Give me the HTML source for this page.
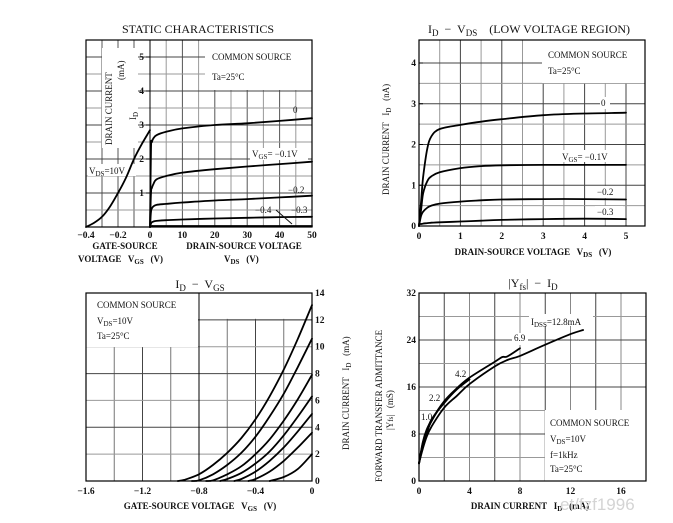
<!DOCTYPE html>
<html><head><meta charset="utf-8">
<style>
html,body{margin:0;padding:0;background:#fff;}
svg{display:block;font-family:"Liberation Serif",serif;}
text{fill:#111;white-space:pre;}
.t{font-size:12px;}
.s{font-size:9px;}
.tk{font-size:9.5px;font-weight:bold;}
</style></head>
<body>
<svg id="fig" width="673" height="523" viewBox="0 0 673 523">
<g id="g1"></g>
<g id="g2"></g>
<g id="g3"></g>
<g id="g4"></g>
<g id="labels">
<!-- chart 1 -->
<text class="t" x="198" y="33" text-anchor="middle">STATIC CHARACTERISTICS</text>
<text class="s" x="212" y="60">COMMON SOURCE</text>
<text class="s" x="212" y="80">Ta=25°C</text>
<g transform="translate(112,145) rotate(-90)">
<text class="s" x="0" y="0">DRAIN CURRENT</text>
<text class="s" x="65" y="12">(mA)</text>
<text class="s" x="25" y="24">I<tspan dy="2" font-size="7">D</tspan></text>
</g>
<text class="s" x="89" y="174">V<tspan dy="2" font-size="7">DS</tspan><tspan dy="-2">=10V</tspan></text>
<text class="s" x="293" y="113">0</text>
<text class="s" x="252" y="157">V<tspan dy="2" font-size="7">GS</tspan><tspan dy="-2">= −0.1V</tspan></text>
<text class="s" x="288" y="193">−0.2</text>
<text class="s" x="291" y="213">−0.3</text>
<text class="s" x="255" y="213">−0.4</text>
<line x1="276" y1="210" x2="292" y2="224" stroke="#111" stroke-width="1"/>
<text class="s" x="125" y="249" text-anchor="middle" font-weight="bold">GATE-SOURCE</text>
<text class="s" x="78" y="262" font-weight="bold">VOLTAGE   V<tspan dy="2" font-size="7">GS</tspan><tspan dy="-2">   (V)</tspan></text>
<text class="s" x="244" y="249" text-anchor="middle" font-weight="bold">DRAIN-SOURCE VOLTAGE</text>
<text class="s" x="224" y="262" font-weight="bold">V<tspan dy="2" font-size="7">DS</tspan><tspan dy="-2">   (V)</tspan></text>
<!-- chart 2 -->
<text class="t" x="428" y="33">I<tspan dy="3" font-size="9">D</tspan><tspan dy="-3">  −  V</tspan><tspan dy="3" font-size="9">DS</tspan><tspan dy="-3">    (LOW VOLTAGE REGION)</tspan></text>
<text class="s" x="548" y="58">COMMON SOURCE</text>
<text class="s" x="548" y="74">Ta=25°C</text>
<text class="s" transform="translate(389,195) rotate(-90)">DRAIN CURRENT   I<tspan dy="2" font-size="7">D</tspan><tspan dy="-2">   (nA)</tspan></text>
<text class="s" x="601" y="106">0</text>
<text class="s" x="562" y="160">V<tspan dy="2" font-size="7">GS</tspan><tspan dy="-2">= −0.1V</tspan></text>
<text class="s" x="597" y="195">−0.2</text>
<text class="s" x="597" y="215">−0.3</text>
<text class="s" x="533" y="255" text-anchor="middle" font-weight="bold">DRAIN-SOURCE VOLTAGE   V<tspan dy="2" font-size="7">DS</tspan><tspan dy="-2">   (V)</tspan></text>
<!-- chart 3 -->
<text class="t" x="200" y="288" text-anchor="middle">I<tspan dy="3" font-size="9">D</tspan><tspan dy="-3">  −  V</tspan><tspan dy="3" font-size="9">GS</tspan></text>
<text class="s" x="97" y="308">COMMON SOURCE</text>
<text class="s" x="97" y="324">V<tspan dy="2" font-size="7">DS</tspan><tspan dy="-2">=10V</tspan></text>
<text class="s" x="97" y="339" font-size="8">Ta=25°C</text>
<text class="s" transform="translate(349,450) rotate(-90)">DRAIN CURRENT   I<tspan dy="2" font-size="7">D</tspan><tspan dy="-2">   (mA)</tspan></text>
<text class="s" x="200" y="509" text-anchor="middle" font-weight="bold">GATE-SOURCE VOLTAGE   V<tspan dy="2" font-size="7">GS</tspan><tspan dy="-2">   (V)</tspan></text>
<!-- chart 4 -->
<text class="t" x="533" y="287" text-anchor="middle">|Y<tspan dy="3" font-size="9">fs</tspan><tspan dy="-3">|  −  I</tspan><tspan dy="3" font-size="9">D</tspan></text>
<text class="s" transform="translate(382,482) rotate(-90)">FORWARD TRANSFER ADMITTANCE</text>
<text class="s" transform="translate(393,430) rotate(-90)">|Y<tspan font-size="7">fs</tspan>|   (mS)</text>
<text class="s" x="550" y="426">COMMON SOURCE</text>
<text class="s" x="550" y="442" font-size="10">V<tspan dy="2" font-size="7">DS</tspan><tspan dy="-2">=10V</tspan></text>
<text class="s" x="550" y="458">f=1kHz</text>
<text class="s" x="550" y="472">Ta=25°C</text>
<text class="s" x="421" y="420">1.0</text>
<text class="s" x="429" y="401">2.2</text>
<text class="s" x="455" y="377">4.2</text>
<text class="s" x="514" y="341">6.9</text>
<text class="s" x="531" y="325">I<tspan dy="2" font-size="7">DSS</tspan><tspan dy="-2">=12.8mA</tspan></text>
<text class="s" x="530" y="509" text-anchor="middle" font-weight="bold">DRAIN CURRENT   I<tspan dy="2" font-size="7">D</tspan><tspan dy="-2">   (mA)</tspan></text>
<text x="560" y="510" font-family="Liberation Sans, sans-serif" font-size="17" style="fill:#d4d4d4">et/fzf1996</text>
</g>
</svg>
<script>
// ---- Chart 1 data ----
const c1Vds = [0,0.3,0.6,1,2,5,10,20,30,40,50];
const c1Vgs0 = [0,2.3,2.5,2.6,2.7,2.8,2.9,3.0,3.05,3.12,3.2];
const c1VgsM1 = [0,1.0,1.15,1.25,1.4,1.5,1.6,1.7,1.78,1.85,1.92];
const c1VgsM2 = [0,0.45,0.55,0.6,0.65,0.68,0.72,0.78,0.82,0.87,0.92];
const c1VgsM3 = [0,0.1,0.14,0.16,0.18,0.2,0.22,0.25,0.27,0.29,0.3];
const c1VgsM4 = [0,0.02,0.03,0.03,0.03,0.03,0.03,0.03,0.03,0.03,0.03];
const c1TransVgs = [-0.4,-0.35,-0.3,-0.25,-0.2,-0.15,-0.1,-0.05,0];
const c1TransId = [0,0.12,0.3,0.6,1.0,1.45,2.0,2.45,2.85];
const c1YTicks = [1,2,3,4,5];
const c1VdsTicks = [0,10,20,30,40,50];
const c1VgsTicks = [-0.4,-0.2];
// ---- Chart 2 data ----
const c2Vds = [0,0.05,0.1,0.2,0.3,0.5,1,1.5,2,3,4,5];
const c2Vgs0 = [0,0.6,1.2,1.9,2.2,2.38,2.48,2.56,2.62,2.72,2.76,2.78];
const c2VgsM1 = [0,0.4,0.8,1.1,1.22,1.32,1.42,1.47,1.49,1.5,1.5,1.5];
const c2VgsM2 = [0,0.25,0.35,0.45,0.5,0.55,0.6,0.63,0.65,0.66,0.66,0.65];
const c2VgsM3 = [0.05,0.05,0.06,0.07,0.08,0.09,0.11,0.13,0.15,0.17,0.18,0.17];
const c2XTicks = [0,1,2,3,4,5];
const c2YTicks = [0,1,2,3,4];
// ---- Chart 3 data ----
const c3VgsA = [-0.95,-0.9,-0.8,-0.7,-0.6,-0.5,-0.4,-0.3,-0.2,-0.1,0];
const c3IdA = [0,0.1,0.5,1.2,2.1,3.2,4.6,6.3,8.3,10.6,13.1];
const c3VgsB = [-0.85,-0.8,-0.7,-0.6,-0.5,-0.4,-0.3,-0.2,-0.1,0];
const c3IdB = [0,0.05,0.5,1.2,2.1,3.3,4.8,6.5,8.5,10.6];
const c3VgsC = [-0.75,-0.7,-0.6,-0.5,-0.4,-0.3,-0.2,-0.1,0];
const c3IdC = [0,0.05,0.5,1.1,2.0,3.1,4.5,6.1,7.9];
const c3VgsD = [-0.65,-0.6,-0.5,-0.4,-0.3,-0.2,-0.1,0];
const c3IdD = [0,0.15,0.6,1.3,2.2,3.4,4.8,6.3];
const c3VgsE = [-0.55,-0.5,-0.4,-0.3,-0.2,-0.1,0];
const c3IdE = [0,0.15,0.7,1.5,2.5,3.7,5.0];
const c3VgsF = [-0.45,-0.4,-0.3,-0.2,-0.1,0];
const c3IdF = [0,0.15,0.7,1.5,2.5,3.6];
const c3VgsG = [-0.3,-0.2,-0.1,0];
const c3IdG = [0,0.3,0.9,2.0];
const c3XTicks = [-1.6,-1.2,-0.8,-0.4,0];
const c3YTicks = [0,2,4,6,8,10,12,14];
// ---- Chart 4 data ----
const c4IdMain = [0,0.3,0.6,1,2,3,4,6,7,8,10,12,13];
const c4YfsMain = [3,5.5,7.5,9.3,12.5,14.5,16.5,19.5,20.6,21.3,23.2,25,25.7];
const c4Id69 = [0,0.3,0.6,1,2,3,4,6,6.6,7,8];
const c4Yfs69 = [3,6,8,10.3,13.6,15.8,17.6,20.3,21.1,21.2,22.6];
const c4Id42 = [0,0.3,0.6,1,2,3,4];
const c4Yfs42 = [3,6.2,8.3,10.5,13.3,15.6,17.3];
const c4Id22 = [0,0.3,0.6,1,1.5,2];
const c4Yfs22 = [3,6.4,8.5,10.2,12,13.4];
const c4Id10 = [0,0.3,0.6,1];
const c4Yfs10 = [3,6.6,8.7,10.4];
const c4XTicks = [0,4,8,12,16];
const c4YTicks = [0,8,16,24,32];

const NS = 'http://www.w3.org/2000/svg';
function mk(parent, tag, attrs){ const e=document.createElementNS(NS,tag); for(const k in attrs) e.setAttribute(k,attrs[k]); parent.appendChild(e); return e; }
function lin(d0,d1,r0,r1){ return v => r0 + (v-d0)*(r1-r0)/(d1-d0); }
function curve(g, xs, ys, fx, fy, name){
  const P = xs.map((x,i)=>[fx(x), fy(ys[i])]);
  let d = 'M'+P[0][0].toFixed(1)+','+P[0][1].toFixed(1);
  for(let i=0;i<P.length-1;i++){
    const p0=P[Math.max(0,i-1)], p1=P[i], p2=P[i+1], p3=P[Math.min(P.length-1,i+2)];
    const c1x=p1[0]+(p2[0]-p0[0])/6, c1y=p1[1]+(p2[1]-p0[1])/6;
    const c2x=p2[0]-(p3[0]-p1[0])/6, c2y=p2[1]-(p3[1]-p1[1])/6;
    d += ' C'+c1x.toFixed(1)+','+c1y.toFixed(1)+' '+c2x.toFixed(1)+','+c2y.toFixed(1)+' '+p2[0].toFixed(1)+','+p2[1].toFixed(1);
  }
  const p = mk(g,'path',{d:d,fill:'none',stroke:'#000','stroke-width':1.8,'stroke-linejoin':'round','stroke-linecap':'round'});
  
  
  return p;
}
function gl(g,x1,y1,x2,y2,c,name){
  const l = mk(g,'line',{x1,y1,x2,y2,stroke:c||'#777','stroke-width':1});
  
  
}
function txt(g,x,y,s,anchor,name){
  const t = mk(g,'text',{x,y,'text-anchor':anchor||'middle','class':'tk'});
  t.textContent = s;
  
  
}
function wbox(g,x,y,w,h,name){
  const r = mk(g,'rect',{x,y,width:w,height:h,fill:'#fff'});
  
  
}

// ===== Chart 1 =====
(function(){
  const g = document.getElementById('g1');
  const L=86,R=312,T=40,B=227,X0=150;
  const xv = lin(0,50,X0,R), xg = lin(-0.4,0,L,X0), y = lin(0,5.5,B,T);
  for(let v=5;v<50;v+=5) gl(g,xv(v),T,xv(v),B,v%10? '#999':'#555','grid-v');
  [-0.3,-0.2,-0.1].forEach(v=>gl(g,xg(v),T,xg(v),B,'#555','grid-v'));
  for(let v=0.5;v<5.5;v+=0.5) gl(g,L,y(v),R,y(v),Number.isInteger(v)?'#444':'#999','grid-h');
  wbox(g,102,48,36,100,'y-title-box');
  wbox(g,205,T,R-205,50,'legend-box');
  wbox(g,88,164,48,12,'vds-label-box');
  wbox(g,250,148,58,12,'vgs-label-box');
  const f = mk(g,'rect',{x:L,y:T,width:R-L,height:B-T,fill:'none',stroke:'#000','stroke-width':1.2});
   
  gl(g,X0,T,X0,B,'#000','y-axis');
  c1YTicks.forEach(v=>{ gl(g,X0-4,y(v),X0,y(v),'#000','y-tick'); txt(g,X0-6,y(v)+3,String(v),'end','y-tick-label'); });
  c1VdsTicks.forEach(v=>txt(g,xv(v),238,String(v),'middle','x-tick-label'));
  c1VgsTicks.forEach(v=>txt(g,xg(v),238,(v<0?'−':'')+Math.abs(v).toFixed(1),'middle','x-tick-label'));
  curve(g,c1Vds,c1Vgs0,xv,y,'curve-vgs-0');
  curve(g,c1Vds,c1VgsM1,xv,y,'curve-vgs-m01');
  curve(g,c1Vds,c1VgsM2,xv,y,'curve-vgs-m02');
  curve(g,c1Vds,c1VgsM3,xv,y,'curve-vgs-m03');
  curve(g,c1Vds,c1VgsM4,xv,y,'curve-vgs-m04');
  curve(g,c1TransVgs,c1TransId,xg,y,'curve-transfer');
})();

// ===== Chart 2 =====
(function(){
  const g = document.getElementById('g2');
  const L=419,R=645,T=40,B=226;
  const x = lin(0,5,L,626), y = lin(0,4,B,63);
  for(let v=0.5;v<5.3;v+=0.5) gl(g,x(v),T,x(v),B,Number.isInteger(v)?'#444':'#999','grid-v');
  for(let v=0.5;v<4.5;v+=0.5) gl(g,L,y(v),R,y(v),Number.isInteger(v)?'#444':'#999','grid-h');
  wbox(g,542,T,R-542,43,'legend-box');
  wbox(g,560,150,58,12,'vgs-label-box');
  [[600,97,10],[595,186,28],[595,206,28]].forEach(b=>wbox(g,b[0],b[1],b[2],12,'curve-label-box'));
  const f = mk(g,'rect',{x:L,y:T,width:R-L,height:B-T,fill:'none',stroke:'#000','stroke-width':1.2});
   
  c2YTicks.forEach(v=>{ gl(g,L,y(v),L+4,y(v),'#000','y-tick'); txt(g,L-3,y(v)+3,String(v),'end','y-tick-label'); });
  c2XTicks.forEach(v=>txt(g,x(v),239,String(v),'middle','x-tick-label'));
  curve(g,c2Vds,c2Vgs0,x,y,'curve-vgs-0');
  curve(g,c2Vds,c2VgsM1,x,y,'curve-vgs-m01');
  curve(g,c2Vds,c2VgsM2,x,y,'curve-vgs-m02');
  curve(g,c2Vds,c2VgsM3,x,y,'curve-vgs-m03');
})();

// ===== Chart 3 =====
(function(){
  const g = document.getElementById('g3');
  const L=86,R=312,T=293,B=481;
  const x = lin(-1.6,0,L,R), y = lin(0,14,B,T);
  for(let i=1;i<8;i++){ const v=-1.6+0.2*i; gl(g,x(v),T,x(v),B,i%2?'#777':'#444','grid-v'); }
  for(let v=2;v<14;v+=2) gl(g,L,y(v),R,y(v),v%4?'#999':'#444','grid-h');
  wbox(g,L,T,112,54,'legend-box');
  wbox(g,198,T,R-198,y(12)-T-1,'top-box');
  gl(g,x(-0.6),y(12),R,y(12),'#444','grid-h');
  const f = mk(g,'rect',{x:L,y:T,width:R-L,height:B-T,fill:'none',stroke:'#000','stroke-width':1.2});
   
  gl(g,x(-0.8),T,x(-0.8),B,'#000','grid-v-dark');
  c3YTicks.forEach(v=>txt(g,R+3,y(v)+3,String(v),'start','y-tick-label'));
  c3XTicks.forEach(v=>txt(g,x(v),494,v===0?'0':'−'+Math.abs(v).toFixed(1),'middle','x-tick-label'));
  curve(g,c3VgsA,c3IdA,x,y,'curve-idss-13');
  curve(g,c3VgsB,c3IdB,x,y,'curve-idss-10');
  curve(g,c3VgsC,c3IdC,x,y,'curve-idss-8');
  curve(g,c3VgsD,c3IdD,x,y,'curve-idss-6');
  curve(g,c3VgsE,c3IdE,x,y,'curve-idss-5');
  curve(g,c3VgsF,c3IdF,x,y,'curve-idss-3');
  curve(g,c3VgsG,c3IdG,x,y,'curve-idss-2');
})();

// ===== Chart 4 =====
(function(){
  const g = document.getElementById('g4');
  const L=419,R=646,T=293,B=481;
  const x = lin(0,16,L,621), y = lin(0,32,B,T);
  for(let v=2;v<18;v+=2) gl(g,x(v),T,x(v),B,v%4?'#444':'#888','grid-v');
  for(let v=4;v<32;v+=4) gl(g,L,y(v),R,y(v),v%8?'#999':'#444','grid-h');
  wbox(g,545,410,R-545,B-410,'legend-box');
  [[420,411,14],[428,392,14],[454,368,14],[512,333,16],[529,314,64]].forEach(b=>wbox(g,b[0],b[1],b[2],12,'curve-label-box'));
  const f = mk(g,'rect',{x:L,y:T,width:R-L,height:B-T,fill:'none',stroke:'#000','stroke-width':1.2});
   
  c4YTicks.forEach(v=>txt(g,L-3,y(v)+3,String(v),'end','y-tick-label'));
  c4XTicks.forEach(v=>txt(g,x(v),494,String(v),'middle','x-tick-label'));
  curve(g,c4IdMain,c4YfsMain,x,y,'curve-idss-12-8');
  curve(g,c4Id69,c4Yfs69,x,y,'curve-idss-6-9');
  curve(g,c4Id42,c4Yfs42,x,y,'curve-idss-4-2');
  curve(g,c4Id22,c4Yfs22,x,y,'curve-idss-2-2');
  curve(g,c4Id10,c4Yfs10,x,y,'curve-idss-1-0');
})();
document.getElementById('fig').appendChild(document.getElementById('labels'));
</script>
</body></html>
